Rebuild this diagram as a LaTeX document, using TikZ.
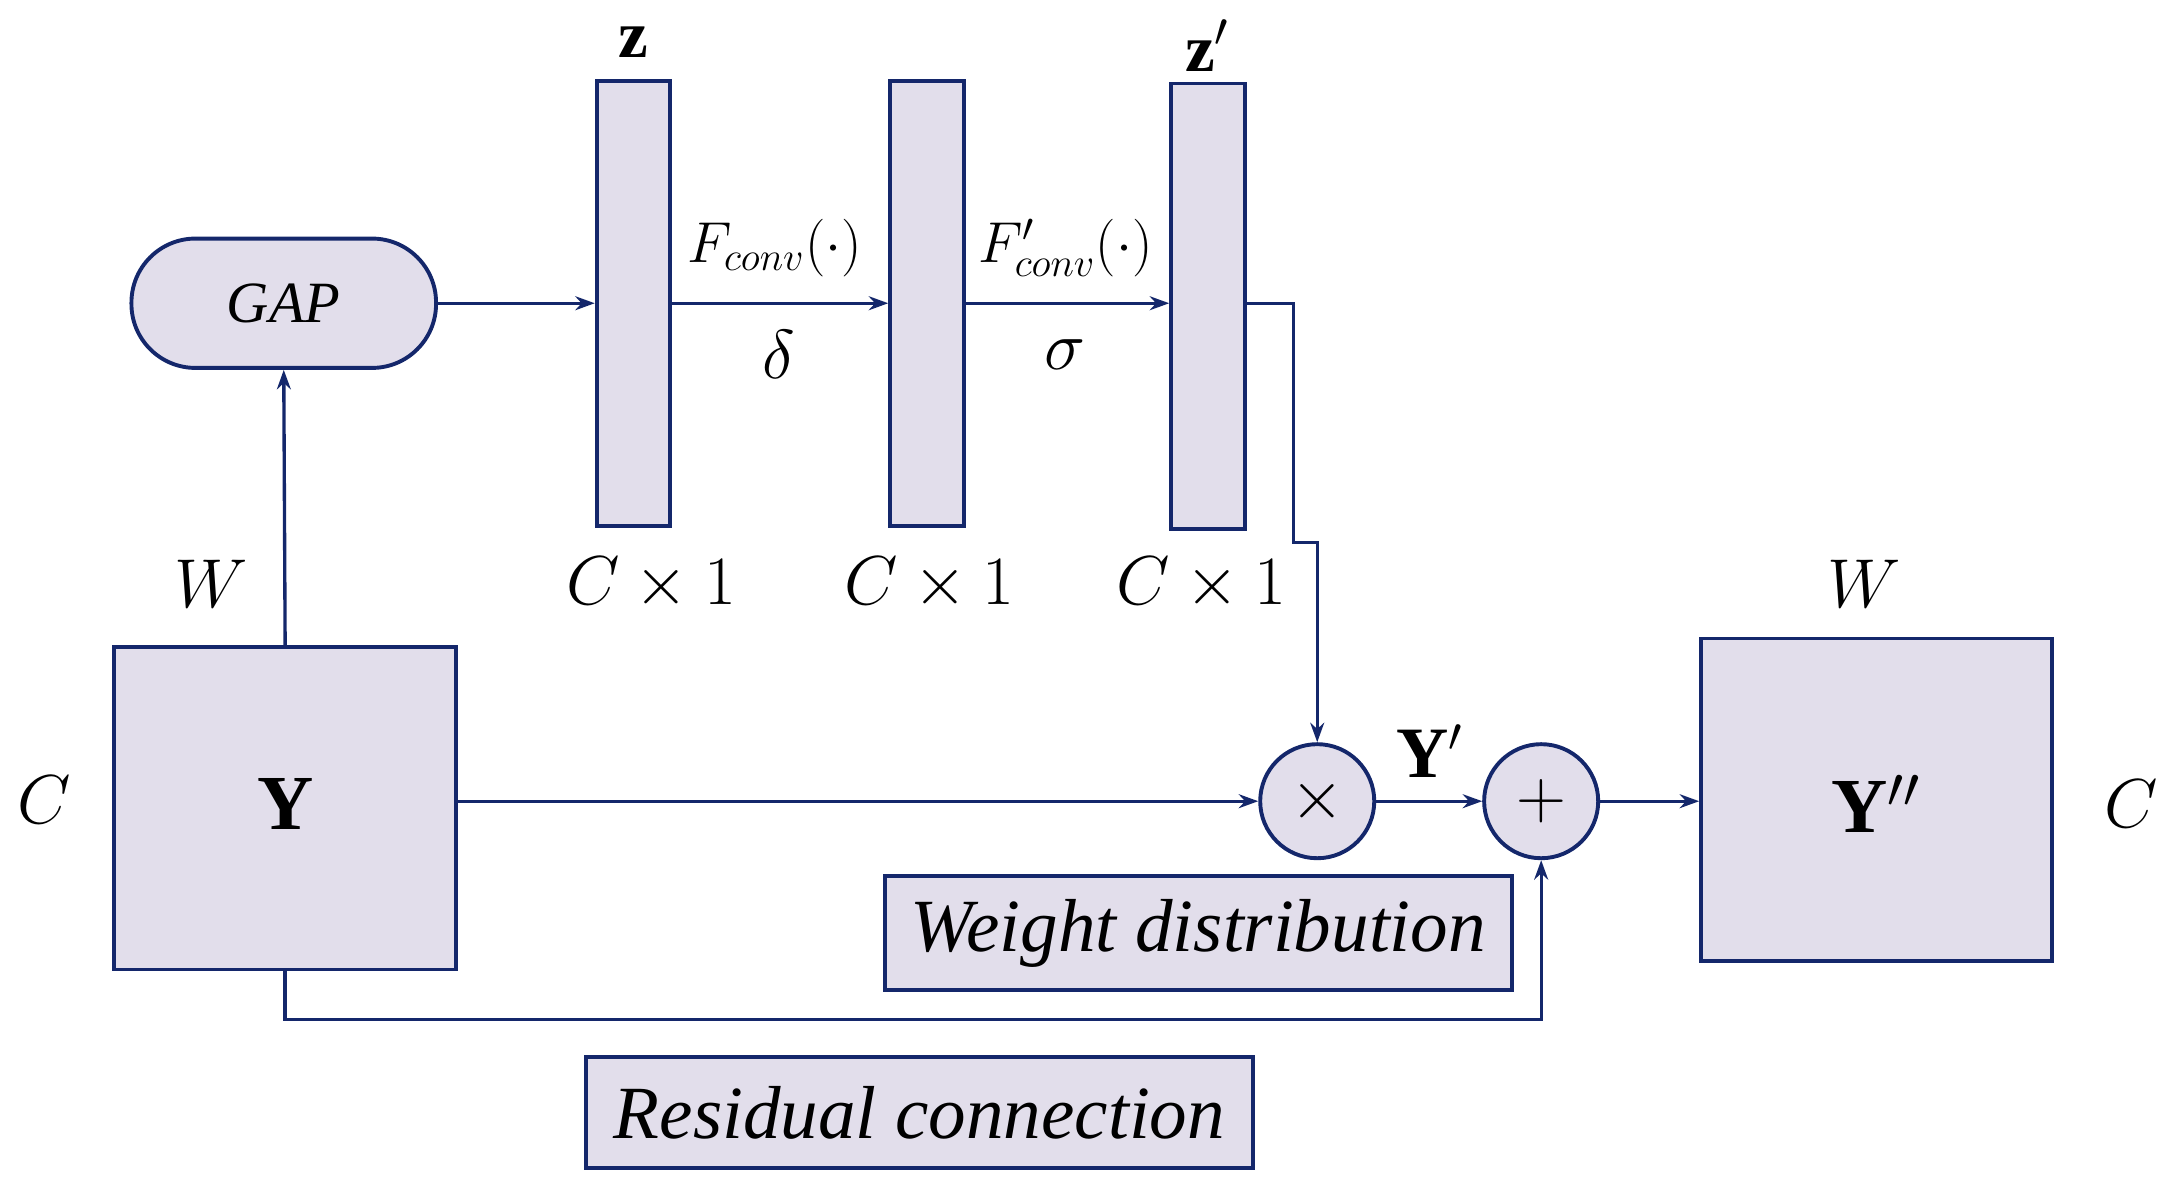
\documentclass[tikz,border=0pt]{standalone}
\usepackage{fontspec}
\setmainfont{Liberation Serif}
\usetikzlibrary{arrows.meta}
\definecolor{fillc}{HTML}{E2DEEB}
\definecolor{linec}{HTML}{14276B}
\begin{document}
\begin{tikzpicture}[x=0.5pt,y=-0.5pt,
 box/.style={draw=linec,fill=fillc,line width=1.4pt},
 con/.style={draw=linec,line width=1.2pt,-{Stealth[length=7pt,width=5pt]}},
 lbl/.style={font=\fontsize{27}{29}\selectfont\itshape},
 ml/.style={font=\fontsize{24}{26}\selectfont}]
\useasboundingbox (0,0) rectangle (1568,864);
\node[box,rounded corners=23pt,minimum width=109.5pt,minimum height=46.5pt,font=\fontsize{21}{23}\selectfont\itshape] (gap) at (204,218) {GAP};
\node[box,minimum width=26.5pt,minimum height=160pt] (b1) at (455.5,218) {};
\node[box,minimum width=26.5pt,minimum height=160pt] (b2) at (666.5,218) {};
\node[box,minimum width=26.5pt,minimum height=160pt] (b3) at (868.5,220) {};
\node[ml] (z) at (455,30) {$\mathbf{z}$};
\node[ml] (zp) at (868,33) {$\mathbf{z}'$};
\node[ml] (c1) at (468,420) {$C\times1$};
\node[ml] (c2) at (668,420) {$C\times1$};
\node[ml] (c3) at (864,420) {$C\times1$};
\node[box,minimum width=123pt,minimum height=116pt] (y) at (205,581) {};
\node[font=\fontsize{28}{30}\selectfont] (yl) at (205,578) {$\mathbf{Y}$};
\node[box,minimum width=126pt,minimum height=116pt] (y2) at (1349,575) {};
\node[font=\fontsize{28}{30}\selectfont] (y2l) at (1349,578) {$\mathbf{Y}''$};
\node[ml] (w1) at (152,420) {$W$};
\node[ml] (w2) at (1340,420) {$W$};
\node[ml] (cl) at (32,575) {$C$};
\node[ml] (cr) at (1532,578) {$C$};
\node[box,circle,minimum size=41pt,inner sep=0pt,ml] (mul) at (947,576) {$\times$};
\node[box,circle,minimum size=41pt,inner sep=0pt,ml] (add) at (1108,576) {$+$};
\node[font=\fontsize{26}{28}\selectfont] (ypl) at (1028,540) {$\mathbf{Y}'$};
\node[font=\fontsize{21}{23}\selectfont] (f1) at (557,178) {$F_{conv}(\cdot)$};
\node[font=\fontsize{21}{23}\selectfont] (f2) at (766,178) {$F'_{conv}(\cdot)$};
\node[ml] (d) at (560,255) {$\delta$};
\node[ml] (s) at (766,255) {$\sigma$};
\node[box,minimum width=225.5pt,minimum height=41pt,lbl] (wd) at (861.5,671) {Weight distribution};
\node[box,minimum width=240pt,minimum height=40pt,lbl] (rc) at (661,800) {Residual connection};
\draw[con] (gap.east) -- (b1.west|-gap.east);
\draw[con] (b1.east|-gap.east) -- (b2.west|-gap.east);
\draw[con] (b2.east|-gap.east) -- (b3.west|-gap.east);
\draw[con] (b3.east|-gap.east) -- (930,218) -- (930,390) -- (947,390) -- (mul.north);
\draw[con] (y.north) -- (gap.south);
\draw[con] (y.east|-mul) -- (mul.west);
\draw[con] (mul.east) -- (add.west);
\draw[con] (add.east) -- (y2.west|-add.east);
\draw[con] (y.south) -- (205,733) -- (1108,733) -- (add.south);
\end{tikzpicture}
\end{document}
